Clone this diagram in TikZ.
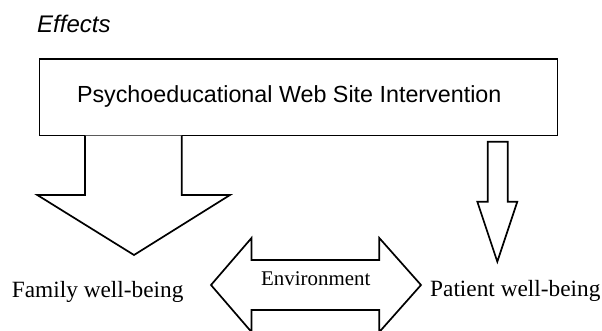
\documentclass[tikz,border=0pt]{standalone}
\usepackage{fontspec}
\setmainfont{Liberation Serif}
\setsansfont{Liberation Sans}
\tikzset{
  blockarrow/.style={draw, line width=1.7pt, line join=miter, fill=white},
  plainlabel/.style={inner sep=0pt, anchor=base west, font=\fontsize{23.3}{26}\selectfont}
}
\begin{document}
\begin{tikzpicture}[x=1pt, y=-1pt]
  \useasboundingbox (0,0) rectangle (602,330);

  \node[plainlabel, font=\sffamily\itshape\fontsize{24}{28}\selectfont] (effects) at (37,32.7) {Effects};

  \node[draw, line width=1.7pt, minimum width=518pt, minimum height=76.5pt, inner sep=0pt] (web) at (298.35,97.25) {};
  \node[plainlabel, font=\sffamily\fontsize{23.3}{26}\selectfont] (webtext) at (76.8,102.7) {Psychoeducational Web Site Intervention};

  % wide arrow to the family
  \draw[blockarrow] (85,135.5) -- (85,195) -- (37.3,195) -- (134,255) -- (230,195) -- (181.7,195) -- (181.7,135.5);
  % narrow arrow to the patient
  \draw[blockarrow] (487.7,141.7) -- (487.7,201.7) -- (477.3,201.7) -- (497.3,261.7) -- (517.3,201.7) -- (507.7,201.7) -- (507.7,141.7) -- cycle;
  % two-way arrow
  \draw[blockarrow] (211,285) -- (251.5,238) -- (251.5,260) -- (379.3,260) -- (379.3,238) -- (421,285)
    -- (379.3,332) -- (379.3,310) -- (251.5,310) -- (251.5,332) -- cycle;

  \node[plainlabel, font=\fontsize{20.9}{24}\selectfont] (env) at (261,285) {Environment};
  \node[plainlabel] (family) at (11.7,297.3) {Family well-being};
  \node[plainlabel] (patient) at (430,296.7) {Patient well-being};
\end{tikzpicture}
\end{document}
